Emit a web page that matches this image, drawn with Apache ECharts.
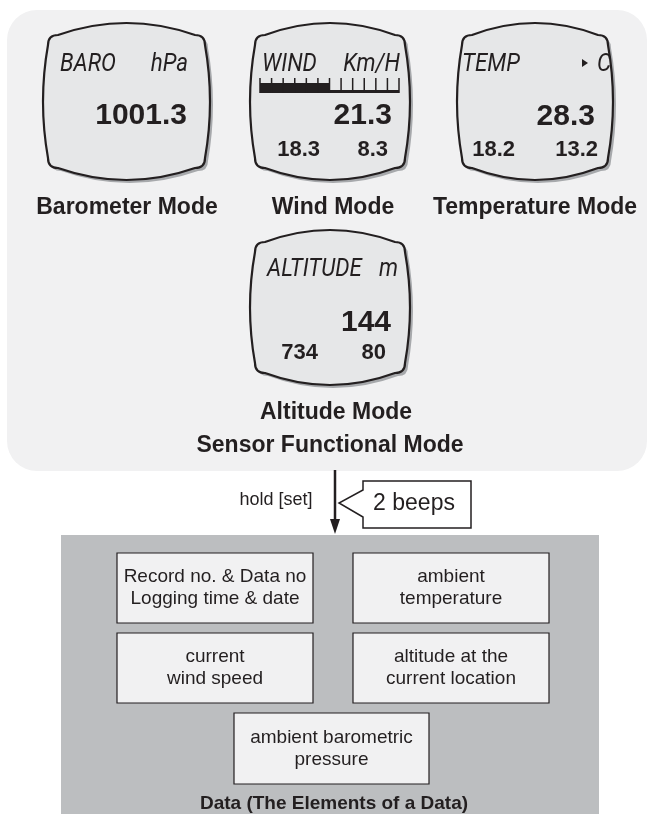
<!DOCTYPE html>
<html>
<head>
<meta charset="utf-8">
<script src="https://cdn.jsdelivr.net/npm/echarts@6/dist/echarts.min.js"></script>
<style>
  html, body { margin: 0; padding: 0; background: #fff; }
  #chart { width: 649px; height: 814px; }
</style>
</head>
<body>
<div id="chart"></div>
<script>
  const modeNames = ['Barometer Mode', 'Wind Mode', 'Temperature Mode', 'Altitude Mode']
  const screenTitles = ['BARO', 'WIND', 'TEMP', 'ALTITUDE']
  const screenUnits = ['hPa', 'Km/H', 'C', 'm']
  const mainReadings = ['1001.3', '21.3', '28.3', '144']
  const subLeftReadings = ['', '18.3', '18.2', '734']
  const subRightReadings = ['', '8.3', '13.2', '80']
  const windBarTotal = 12
  const windBarFilled = 6
  const groupTitle = 'Sensor Functional Mode'
  const holdLabel = 'hold [set]'
  const beepLabel = '2 beeps'
  const dataElements = [
    'Record no. & Data no\nLogging time & date',
    'ambient\ntemperature',
    'current\nwind speed',
    'altitude at the\ncurrent location',
    'ambient barometric\npressure'
  ]
  const dataTitle = 'Data (The Elements of a Data)'

  const INK = '#231f20'
  const BOLD = 'Liberation Sans, Arial, sans-serif'

  // screen boxes + where things sit inside them
  const screens = [
    { x: 43, y: 23, w: 167, h: 157, tx: 17, ty: 41, ux: 145, mx: 144, my: 93, lx: 0, rx: 0, sy: 127, label: [127, 208] },
    { x: 250, y: 23, w: 160, h: 157, tx: 12, ty: 41, ux: 150, mx: 142, my: 93, lx: 70, rx: 138, sy: 127, label: [333, 208] },
    { x: 457, y: 23, w: 156, h: 157, tx: 5, ty: 41, ux: 154, mx: 138, my: 94, lx: 58, rx: 141, sy: 127, label: [535, 208] },
    { x: 250, y: 230, w: 160, h: 155, tx: 17, ty: 39, ux: 148, mx: 141, my: 93, lx: 68, rx: 136, sy: 123, label: [336, 413] }
  ]

  const dataBoxes = [
    [117, 553, 196, 70],
    [353, 553, 196, 70],
    [117, 633, 196, 70],
    [353, 633, 196, 70],
    [234, 713, 195, 71]
  ]

  // lcd screen outline: bulging edges, rounded corners
  const ScreenShape = echarts.graphic.extendShape({
    type: 'lcdScreen',
    shape: { x: 0, y: 0, width: 0, height: 0 },
    buildPath(ctx, s) {
      const x0 = s.x, y0 = s.y, x1 = s.x + s.width, y1 = s.y + s.height
      const bt = 12, bb = 12, sl = 5, r = 10
      const L = x0 + sl, R = x1 - sl, T = y0 + bt, B = y1 - bb
      const cx = (x0 + x1) / 2, cy = (y0 + y1) / 2
      ctx.moveTo(L + r, T)
      ctx.quadraticCurveTo(cx, 2 * y0 - T, R - r, T)
      ctx.quadraticCurveTo(R, T, R, T + r)
      ctx.quadraticCurveTo(2 * x1 - R, cy, R, B - r)
      ctx.quadraticCurveTo(R, B, R - r, B)
      ctx.quadraticCurveTo(cx, 2 * y1 - B, L + r, B)
      ctx.quadraticCurveTo(L, B, L, B - r)
      ctx.quadraticCurveTo(2 * x0 - L, cy, L, T + r)
      ctx.quadraticCurveTo(L, T, L + r, T)
      ctx.closePath()
    }
  })
  echarts.graphic.registerShape('lcdScreen', ScreenShape)

  const els = []
  const add = (el) => { el.z2 = els.length; els.push(el) }

  function text(str, x, y, opt) {
    add({
      type: 'text',
      x: x,
      y: y,
      scaleX: opt.scaleX || 1,
      style: {
        text: str,
        fill: INK,
        fontSize: opt.size,
        fontWeight: opt.weight || 'normal',
        fontStyle: opt.style || 'normal',
        fontFamily: opt.family || BOLD,
        lineHeight: opt.lineHeight,
        align: opt.align || 'left',
        textAlign: opt.align || 'left',
        verticalAlign: 'middle',
        textVerticalAlign: 'middle'
      }
    })
  }

  // light panel
  add({ type: 'rect', shape: { x: 7, y: 10, width: 640, height: 461, r: 30 }, style: { fill: '#f1f1f2' } })

  const lcd = { size: 26, style: 'italic', weight: 'normal', family: 'Roboto, Liberation Sans, sans-serif', scaleX: 0.86 }

  screens.forEach((s, i) => {
    const box = { x: s.x, y: s.y, width: s.w, height: s.h }
    add({ type: 'lcdScreen', x: 3, y: 3, shape: box, style: { fill: '#a7a9ac' } })
    add({ type: 'lcdScreen', shape: box, style: { fill: '#e6e7e8', stroke: INK, lineWidth: 2.2 } })

    text(screenTitles[i], s.x + s.tx, s.y + s.ty, lcd)
    text(screenUnits[i], s.x + s.ux, s.y + s.ty, Object.assign({}, lcd, { align: 'right' }))
    text(mainReadings[i], s.x + s.mx, s.y + s.my, { size: 30, weight: 'bold', align: 'right' })
    if (subLeftReadings[i]) {
      text(subLeftReadings[i], s.x + s.lx, s.y + s.sy, { size: 22, weight: 'bold', align: 'right' })
      text(subRightReadings[i], s.x + s.rx, s.y + s.sy, { size: 22, weight: 'bold', align: 'right' })
    }
    text(modeNames[i], s.label[0], s.label[1], { size: 23, weight: 'bold', align: 'center' })
  })

  // wind level bar
  const wind = screens[1]
  const bx = wind.x + 10, by = wind.y + 55, bw = 139
  const segW = bw / windBarTotal
  add({ type: 'rect', shape: { x: bx, y: by + 5, width: segW * windBarFilled, height: 10 }, style: { fill: INK } })
  add({ type: 'rect', shape: { x: bx, y: by + 12, width: bw, height: 3 }, style: { fill: INK } })
  for (let i = 0; i <= windBarTotal; i++) {
    const tx = bx + i * segW
    add({ type: 'line', shape: { x1: tx, y1: by, x2: tx, y2: by + 15 }, style: { stroke: INK, lineWidth: 1.5 } })
  }

  // degree marker on the temp screen
  const temp = screens[2]
  add({
    type: 'polygon',
    shape: { points: [[temp.x + 125, temp.y + 36], [temp.x + 125, temp.y + 44], [temp.x + 131, temp.y + 40]] },
    style: { fill: INK }
  })

  text(groupTitle, 330, 446, { size: 23, weight: 'bold', align: 'center' })

  // arrow + callout
  add({ type: 'line', shape: { x1: 335, y1: 470, x2: 335, y2: 522 }, style: { stroke: INK, lineWidth: 2.5 } })
  add({ type: 'polygon', shape: { points: [[330, 519], [340, 519], [335, 534]] }, style: { fill: INK } })
  text(holdLabel, 276, 500, { size: 18, align: 'center' })
  add({
    type: 'polygon',
    shape: { points: [[363, 481], [471, 481], [471, 528], [363, 528], [363, 517], [339, 503], [363, 490]] },
    style: { fill: '#fff', stroke: INK, lineWidth: 1.5 }
  })
  text(beepLabel, 414, 504, { size: 23, align: 'center' })

  // data panel
  add({ type: 'rect', shape: { x: 61, y: 535, width: 538, height: 279 }, style: { fill: '#bcbec0' } })
  dataBoxes.forEach((b, i) => {
    add({
      type: 'rect',
      shape: { x: b[0], y: b[1], width: b[2], height: b[3] },
      style: { fill: '#f1f1f2', stroke: INK, lineWidth: 1.2 }
    })
    text(dataElements[i], b[0] + b[2] / 2, b[1] + b[3] / 2, { size: 19, lineHeight: 22, align: 'center' })
  })
  text(dataTitle, 334, 804, { size: 19, weight: 'bold', align: 'center' })

  const chart = echarts.init(document.getElementById('chart'))
  chart.setOption({
    animation: false,
    graphic: { elements: els }
  })

  window.addEventListener('resize', () => chart.resize())
</script>
</body>
</html>
